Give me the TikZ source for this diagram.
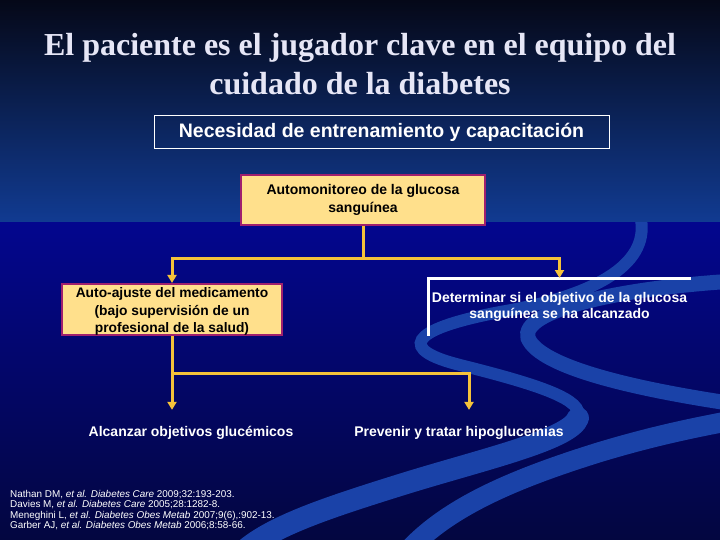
\documentclass[tikz,border=0pt]{standalone}
\usepackage{fontspec}
\setmainfont{Liberation Serif}
\setsansfont{Liberation Sans}
\usetikzlibrary{arrows.meta}
\definecolor{topnavy}{HTML}{050818}
\definecolor{midblue}{HTML}{113B92}
\definecolor{deepblue}{HTML}{03068E}
\definecolor{darknavy}{HTML}{030640}
\definecolor{swooshblue}{HTML}{1A42A8}
\definecolor{boxfill}{HTML}{FFE08C}
\definecolor{boxline}{HTML}{A0206E}
\definecolor{linkgold}{HTML}{F5C23A}
\definecolor{titlewhite}{HTML}{E6E6F6}
\tikzset{
	yellowbox/.style={draw=boxline, line width=1.6, fill=boxfill, align=center, inner sep=0,
		font=\sffamily\bfseries\fontsize{14}{18}\selectfont},
	plainlabel/.style={text=white, align=center, font=\sffamily\bfseries\fontsize{14}{16}\selectfont},
	link/.style={draw=linkgold, line width=3},
	linkarrow/.style={link, -{Triangle[width=9,length=8]}},
	bracket/.style={draw=white, line width=3},
	swooshline/.style={draw=swooshblue, line cap=round},
}

\begin{document}
\begin{tikzpicture}[x=1pt, y=-1pt]
		%%%%% BACKGROUND %%%%%
		\useasboundingbox (0,0) rectangle (720,540);
		\shade[top color=topnavy, bottom color=midblue] (0,0) rectangle (720,223);
		\shade[top color=deepblue, bottom color=darknavy] (0,223) rectangle (720,540);
		
		\begin{scope}
			\clip (0,223) rectangle (720,540);
			% left ribbon
			\draw[swooshline, line width=12] (640,215) .. controls (652,262) and (600,295) .. (500,312) .. controls (405,330) and (400,350) .. (460,365) .. controls (540,385) and (585,400) .. (578,418);
			\draw[swooshline, line width=22] (578,418) .. controls (570,440) and (480,460) .. (400,485) .. controls (320,510) and (260,530) .. (235,560);
			% right ribbon
			\draw[swooshline, line width=15] (735,281) .. controls (620,288) and (520,310) .. (528,338) .. controls (540,368) and (640,390) .. (735,404);
			\draw[swooshline, line width=20] (735,420) .. controls (680,430) and (640,440) .. (600,452) .. controls (510,480) and (440,510) .. (400,560);
		\end{scope}
		
		%%%%% TITLE %%%%%
		\node[text=titlewhite, align=center, font=\bfseries\fontsize{32}{39}\selectfont] (title) at (360,64) {El paciente es el jugador clave en el equipo del\\cuidado de la diabetes};
		
		\node[draw=white, line width=1, text=white, minimum width=455, minimum height=33, font=\sffamily\bfseries\fontsize{19.5}{22}\selectfont] (need) at (381.5,132.5) {Necesidad de entrenamiento y capacitaci\'on};
		
		%%%%% BOXES %%%%%
		\node[yellowbox, minimum width=244, minimum height=50] (selfcheck) at (363,200) {Automonitoreo de la glucosa\\sangu\'inea};
		\node[yellowbox, minimum width=220, minimum height=51, font=\sffamily\bfseries\fontsize{13.8}{17.3}\selectfont] (dose) at (172,309.5) {\rule{0pt}{14pt}Auto-ajuste del medicamento\\(bajo supervisi\'on de un\\profesional de la salud)};
		\node[plainlabel, anchor=north, minimum width=255, inner ysep=14] (target) at (559.5,278) {Determinar si el objetivo de la glucosa\\sangu\'inea se ha alcanzado};
		\draw[bracket] (target.south west) |- (target.north east);
		
		\node[plainlabel] (goal) at (191,433) {Alcanzar objetivos gluc\'emicos};
		\node[plainlabel] (hypo) at (459,433) {Prevenir y tratar hipoglucemias};
		
		%%%%% LINKS %%%%%
		\path (selfcheck.south) ++(0,33) coordinate (split);
		\draw[link] (selfcheck.south) -- (split);
		\draw[linkarrow] (split) -| (dose.north);
		\draw[linkarrow] (split) -| (target.north);
		
		\path (dose.south) ++(0,37) coordinate (fork);
		\draw[link] (dose.south) -- (fork);
		\draw[linkarrow, shorten >=13] (fork) -- (fork |- goal.north);
		\draw[linkarrow, shorten >=13] (fork) -| ([xshift=10]hypo.north);
		
		%%%%% REFERENCES %%%%%
		\node[anchor=north west, inner sep=0, text=white, align=left, font=\sffamily\fontsize{9.9}{10.4}\selectfont] (refs) at (10,490) {Nathan DM, \textit{et al.} \textit{Diabetes Care} 2009;32:193-203.\\Davies M, \textit{et al.} \textit{Diabetes Care} 2005;28:1282-8.\\Meneghini L, \textit{et al.} \textit{Diabetes Obes Metab} 2007;9(6),:902-13.\\Garber AJ, \textit{et al.} \textit{Diabetes Obes Metab} 2006;8:58-66.};
		
		%%%%% END %%%%%
	\end{tikzpicture}
\end{document}
